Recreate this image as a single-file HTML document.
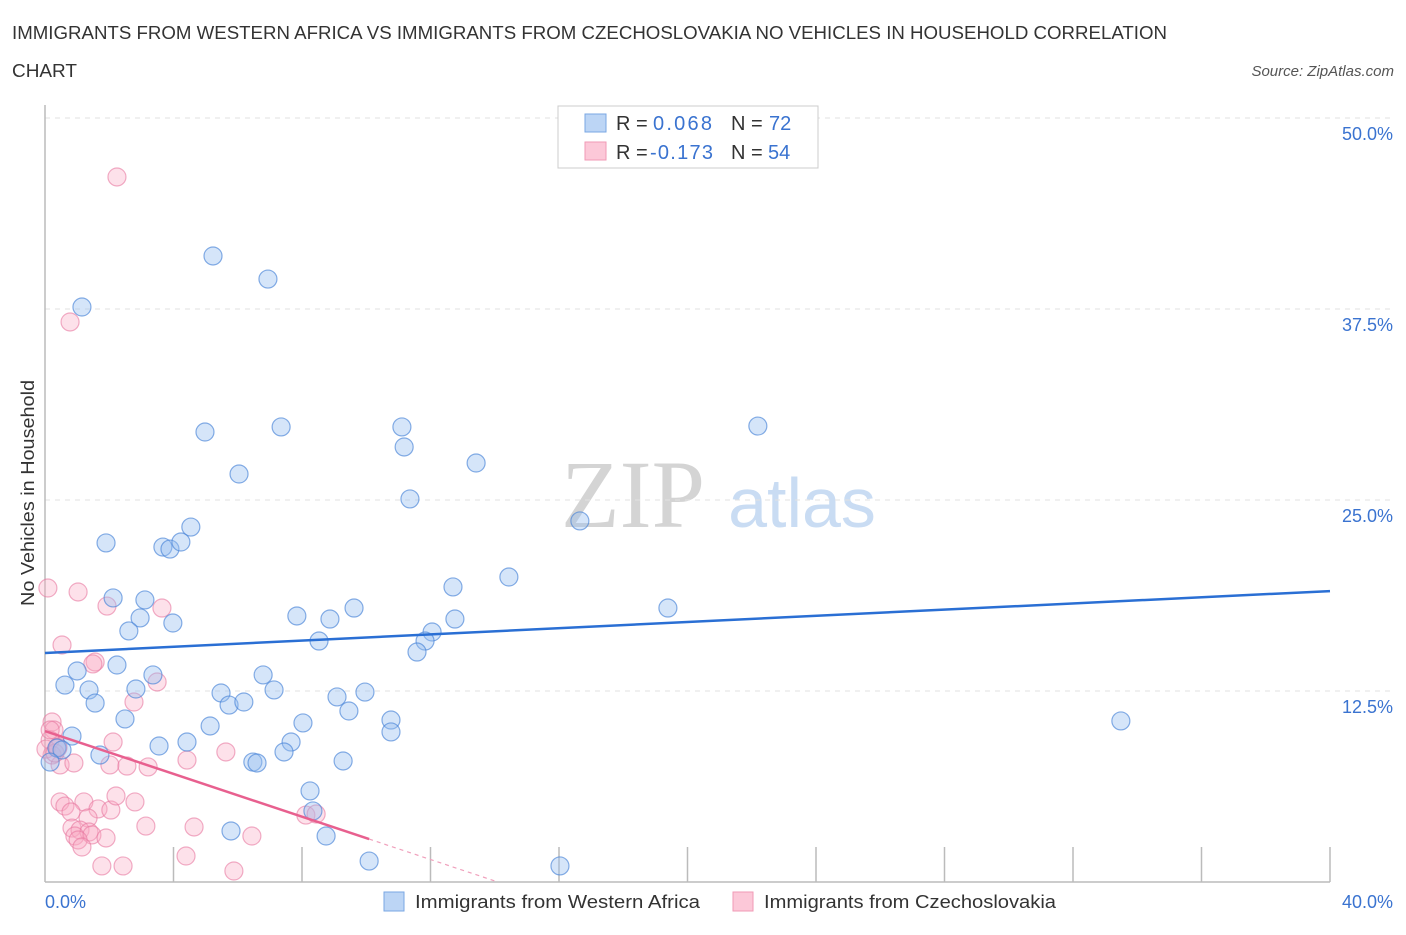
<!DOCTYPE html>
<html><head><meta charset="utf-8"><style>
body{margin:0;background:#fff;font-family:"Liberation Sans",sans-serif}
</style></head><body>
<svg id="chart" width="1406" height="930" xmlns="http://www.w3.org/2000/svg" font-family="Liberation Sans, sans-serif">
<text x="12" y="39" font-size="18" fill="#333" textLength="1155" lengthAdjust="spacingAndGlyphs">IMMIGRANTS FROM WESTERN AFRICA VS IMMIGRANTS FROM CZECHOSLOVAKIA NO VEHICLES IN HOUSEHOLD CORRELATION</text>
<text x="12" y="77" font-size="18" fill="#333" textLength="65" lengthAdjust="spacingAndGlyphs">CHART</text>
<text x="1394" y="76" font-size="15" fill="#555" text-anchor="end" font-style="italic">Source: ZipAtlas.com</text>
<text x="633" y="527" font-size="96" fill="#d4d4d4" text-anchor="middle" style="font-family:'Liberation Serif',serif">ZIP</text>
<text x="802" y="527" font-size="70" fill="#c9dcf3" text-anchor="middle">atlas</text>
<g id="grid"></g><g id="axes"></g><g id="pts"></g><g id="lines"></g>
<text transform="translate(34,493) rotate(-90)" font-size="18" fill="#333" text-anchor="middle" textLength="226" lengthAdjust="spacingAndGlyphs">No Vehicles in Household</text>
<text x="45" y="908" font-size="18" fill="#3a73d0">0.0%</text>
<text x="1393" y="908" font-size="18" fill="#3a73d0" text-anchor="end">40.0%</text>
<g>
<rect x="558" y="106" width="260" height="62" fill="#fff" stroke="#ccc"/>
<rect x="585" y="114" width="21" height="18" fill="#bcd5f5" stroke="#7aa7e3"/>
<rect x="585" y="142" width="21" height="18" fill="#fcc8d8" stroke="#f09ab6"/>
<text x="616" y="130" font-size="20" fill="#333">R = </text><text x="653" y="130" font-size="20" fill="#3a73d0" textLength="59">0.068</text>
<text x="731" y="130" font-size="20" fill="#333">N = </text><text x="769" y="130" font-size="20" fill="#3a73d0">72</text>
<text x="616" y="159" font-size="20" fill="#333">R = </text><text x="650" y="159" font-size="20" fill="#3a73d0" textLength="63">-0.173</text>
<text x="731" y="159" font-size="20" fill="#333">N = </text><text x="768" y="159" font-size="20" fill="#3a73d0">54</text>
</g>
<g>
<rect x="384" y="892" width="20" height="19" fill="#bcd5f5" stroke="#7aa7e3"/>
<text x="415" y="908" font-size="18" fill="#333" textLength="285" lengthAdjust="spacingAndGlyphs">Immigrants from Western Africa</text>
<rect x="733" y="892" width="20" height="19" fill="#fcc8d8" stroke="#f09ab6"/>
<text x="764" y="908" font-size="18" fill="#333" textLength="292" lengthAdjust="spacingAndGlyphs">Immigrants from Czechoslovakia</text>
</g>
</svg>
<script>
const yTicks=[12.5,25,37.5,50];
const yTickLabels=["12.5%","25.0%","37.5%","50.0%"];
const xTicks=[0,4,8,12,16,20,24,28,32,36,40];
const blueX=[5.23,6.94,1.15,4.98,7.35,11.11,11.18,22.19,6.04,13.42,11.36,16.65,1.90,4.54,3.67,3.89,4.23,14.44,12.70,2.12,3.11,9.62,19.39,2.96,3.98,7.84,8.87,12.76,2.61,8.53,12.05,11.83,11.58,1.00,2.24,3.36,6.79,0.62,1.37,2.83,5.48,7.13,1.56,5.73,6.19,9.09,9.96,9.46,2.49,5.14,8.03,10.77,10.77,33.49,0.84,3.55,4.42,7.66,0.37,0.53,1.71,7.44,6.47,6.60,9.28,0.16,8.25,8.34,5.79,8.75,10.09,16.03];
const blueY=[40.97,39.46,37.63,29.45,29.78,29.78,28.47,29.84,26.70,27.42,25.07,23.63,22.19,23.23,21.92,21.79,22.25,19.96,19.31,18.59,18.46,17.93,17.93,17.28,16.95,17.41,17.21,17.21,16.43,15.77,16.36,15.77,15.05,13.81,14.20,13.55,13.55,12.89,12.57,12.63,12.37,12.57,11.71,11.58,11.78,12.11,12.43,11.19,10.67,10.21,10.41,10.60,9.82,10.54,9.55,8.90,9.16,9.16,8.77,8.64,8.31,8.51,7.85,7.79,7.92,7.85,5.96,4.65,3.34,3.01,1.37,1.05];
const pinkX=[2.24,0.78,0.09,1.03,1.93,3.64,0.53,1.56,1.49,3.49,2.77,0.22,0.28,0.16,0.40,2.12,0.22,0.47,0.90,5.63,4.42,2.02,2.55,3.21,0.47,0.62,1.21,1.65,0.81,2.05,2.80,1.34,2.21,0.84,1.09,1.37,0.93,1.46,1.03,3.14,4.64,6.44,8.12,8.44,1.90,1.15,4.39,1.77,2.43,5.88,0.03,0.31,0.40,0.16];
const pinkY=[46.14,36.65,19.24,18.98,18.06,17.93,15.51,14.40,14.27,13.09,11.78,10.47,9.95,9.29,8.84,9.16,8.31,7.66,7.79,8.51,7.98,7.66,7.59,7.53,5.24,4.97,5.24,4.78,4.58,4.71,5.24,4.19,5.63,3.53,3.40,3.27,3.01,3.08,2.75,3.66,3.60,3.01,4.38,4.45,2.88,2.29,1.70,1.05,1.05,0.72,8.70,8.44,8.77,9.95];
const blueFit=[14.99,19.04];
const pinkFit=[9.88,2.81];
const pinkSolidEnd=10.09;
const NS="http://www.w3.org/2000/svg";
const X0=45,X1=1330,Y0=882,Y50=118;
const sx=v=>X0+(X1-X0)*v/40, sy=v=>Y0-(Y0-Y50)*v/50;
function mk(t,a,p){const e=document.createElementNS(NS,t);for(const k in a)e.setAttribute(k,a[k]);p.appendChild(e);return e;}
const grid=document.getElementById('grid'),axes=document.getElementById('axes'),pts=document.getElementById('pts'),lines=document.getElementById('lines');
yTicks.forEach((t,i)=>{
 const l=mk('line',{x1:X0,x2:1393,y1:sy(t),y2:sy(t),stroke:'#e2e2e2','stroke-dasharray':'5,5'},grid);
 
 
 const tx=mk('text',{x:1393,y:sy(t)+22,'font-size':18,fill:'#3a73d0','text-anchor':'end'},grid);
 tx.textContent=yTickLabels[i];
 
 
});
const ax=mk('line',{x1:X0,x2:X1,y1:Y0,y2:Y0,stroke:'#bbb','stroke-width':1.5},axes);


const ay=mk('line',{x1:X0,x2:X0,y1:105,y2:Y0,stroke:'#bbb','stroke-width':1.5},axes);


xTicks.forEach(t=>{if(t===0)return;
 const l=mk('line',{x1:sx(t),x2:sx(t),y1:Y0,y2:Y0-35,stroke:'#bbb','stroke-width':1.5},axes);
 
 
});
function dots(xs,ys,fill,stroke,name){xs.forEach((x,i)=>{
 const c=mk('circle',{cx:sx(x),cy:sy(ys[i]),r:9,fill:fill,stroke:stroke,'stroke-width':1.2},pts);
 
 
});}
dots(pinkX,pinkY,'rgba(248,170,195,0.35)','rgba(232,120,160,0.6)','czechoslovakia-point');
dots(blueX,blueY,'rgba(150,190,240,0.4)','rgba(70,130,215,0.65)','western-africa-point');
const bl=mk('line',{x1:sx(0),y1:sy(blueFit[0]),x2:sx(40),y2:sy(blueFit[1]),stroke:'#2a6fd4','stroke-width':2.5},lines);


const slope=(pinkFit[1]-pinkFit[0])/pinkSolidEnd;
const pl=mk('line',{x1:sx(0),y1:sy(pinkFit[0]),x2:sx(pinkSolidEnd),y2:sy(pinkFit[1]),stroke:'#e8608f','stroke-width':2.5},lines);


const zx=-pinkFit[0]/slope;
const pd=mk('line',{x1:sx(pinkSolidEnd),y1:sy(pinkFit[1]),x2:sx(zx),y2:sy(0),stroke:'#f0a0bc','stroke-width':1.2,'stroke-dasharray':'4,4'},lines);


</script>
</body></html>
